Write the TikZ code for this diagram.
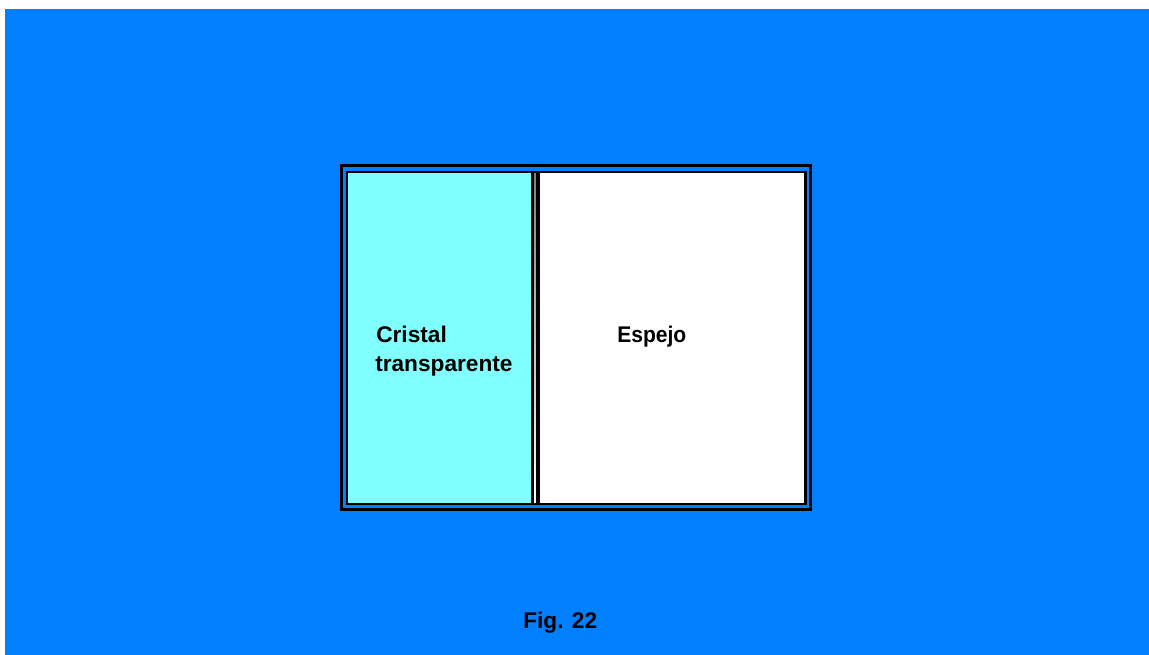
\documentclass[tikz,border=0pt]{standalone}
\usepackage{fontspec}
\setmainfont{Liberation Sans}
\definecolor{bgblue}{HTML}{0080FF}
\definecolor{glass}{HTML}{80FFFF}
\definecolor{shade}{HTML}{A0A0A0}
\begin{document}
\begin{tikzpicture}[x=0.75pt,y=-0.75pt,
  lbl/.style={anchor=base west,inner sep=0pt,font=\bfseries\fontsize{17}{20}\selectfont,text=black},
  frame/.style={draw=black,line width=2.2pt}]
\useasboundingbox (0,0) rectangle (1149,655);
\fill[white] (0,0) rectangle (1149,655);
\fill[bgblue] (5,9) rectangle (1149,655);
% outer frame
\draw[frame] (341.5,165.5) rectangle (810.5,509.5);
% inner panels
\fill[glass] (347,172) rectangle (532,504);
\fill[white] (537,172) rectangle (806,504);
\fill[shade] (533,172) rectangle (537,504);
\draw[shade,line width=0.8pt] (804.5,173) -- (804.5,503);
\draw[shade,line width=0.8pt] (539,173) -- (539,503);
\draw[frame,line width=1.7pt] (347,172) rectangle (806,504);
\draw[black,line width=1.7pt] (532.5,172) -- (532.5,504);
\draw[black,line width=1.7pt] (537.2,172) -- (537.2,504);
% labels
\node[lbl] (cristal) at (376,343) {Cristal};
\node[lbl] (transp) at (375,372) {transparente};
\node[lbl,xscale=0.93] (espejo) at (617,343) {Espejo};
\node[lbl] (fig) at (523,628) {Fig. 22};
\end{tikzpicture}
\end{document}
